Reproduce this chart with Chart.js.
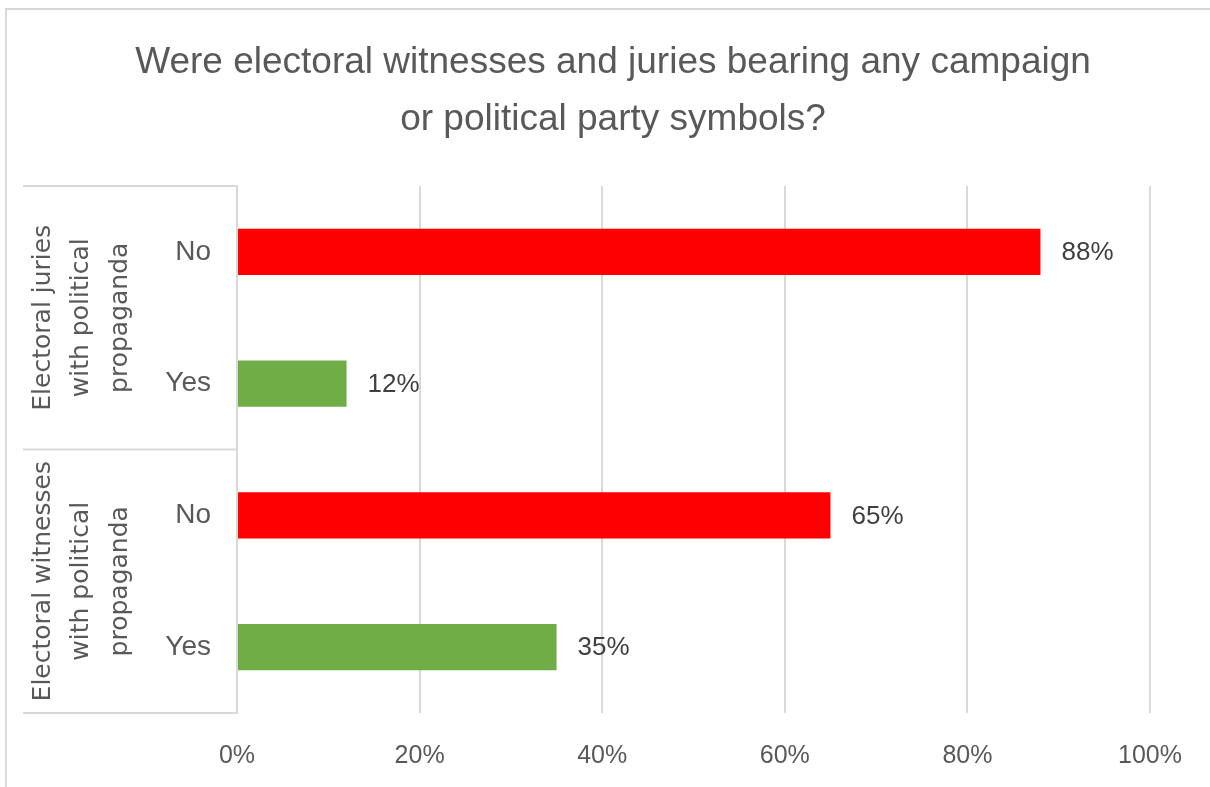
<!DOCTYPE html>
<html>
<head>
<meta charset="utf-8">
<title>Campaign symbols</title>
<script src="https://cdn.jsdelivr.net/npm/chart.js@4.4.1/dist/chart.umd.min.js"></script>
<style>
  html, body { margin: 0; padding: 0; background: #fff; }
  #chartBox { width: 1210px; height: 787px; }
</style>
</head>
<body>
<div id="chartBox"><canvas id="symbolsChart" width="1210" height="787"></canvas></div>
<script>
// ----- Data -----
const titleLines = [
  "Were electoral witnesses and juries bearing any campaign",
  "or political party symbols?"
];
const answers = ["No", "Yes", "No", "Yes"];
const shares = [88, 12, 65, 35];          // percent
const barColors = ["#FF0000", "#70AD47", "#FF0000", "#70AD47"];
const groupLines = [
  ["Electoral juries", "with political", "propaganda"],
  ["Electoral witnesses", "with political", "propaganda"]
];
const groupSizes = [2, 2];                // bars per group
const xTicks = [0, 20, 40, 60, 80, 100];

// ----- Style -----
const TEXT = "#595959";
const LINE = "#D9D9D9";
const SANS = "'Liberation Sans', Arial, sans-serif";
const WIDE = "'DejaVu Sans', sans-serif";

// frame + two-line heading
const framePlugin = {
  id: "frame",
  beforeDraw(chart) {
    const { ctx, width, height } = chart;
    ctx.save();
    ctx.fillStyle = "#fff";
    ctx.fillRect(0, 0, width, height);
    ctx.strokeStyle = LINE;
    ctx.lineWidth = 2;
    ctx.strokeRect(6, 9, width + 20, height + 20);   // right/bottom edges fall off-canvas
    ctx.fillStyle = TEXT;
    ctx.font = "37px " + SANS;
    ctx.textAlign = "center";
    ctx.textBaseline = "middle";
    const cx = width / 2 + 8;
    titleLines.forEach((line, i) => ctx.fillText(line, cx, 63 + i * 57));
    ctx.restore();
  }
};

// outer category level: separators + rotated group names
const groupAxisPlugin = {
  id: "groupAxis",
  afterDraw(chart) {
    const { ctx, chartArea } = chart;
    const left = 23, right = chartArea.left;
    const step = (chartArea.bottom - chartArea.top) / answers.length;
    ctx.save();
    ctx.strokeStyle = LINE;
    ctx.lineWidth = 2;
    let idx = 0;
    const edges = [chartArea.top];
    groupSizes.forEach(n => { idx += n; edges.push(chartArea.top + idx * step); });
    edges.forEach(e => {
      ctx.beginPath();
      ctx.moveTo(left, e);
      ctx.lineTo(right, e);
      ctx.stroke();
    });
    ctx.fillStyle = TEXT;
    ctx.font = "25px " + WIDE;
    ctx.textAlign = "center";
    ctx.textBaseline = "middle";
    groupLines.forEach((lines, g) => {
      const cy = (edges[g] + edges[g + 1]) / 2;
      lines.forEach((txt, i) => {
        ctx.save();
        ctx.translate(43 + i * 38.5, cy);
        ctx.rotate(-Math.PI / 2);
        ctx.fillText(txt, 0, 0);
        ctx.restore();
      });
    });
    ctx.restore();
  }
};

// value labels to the right of each bar
const valueLabelPlugin = {
  id: "valueLabels",
  afterDatasetsDraw(chart) {
    const { ctx } = chart;
    const meta = chart.getDatasetMeta(0);
    ctx.save();
    ctx.fillStyle = "#404040";
    ctx.font = "26px " + SANS;
    ctx.textAlign = "left";
    ctx.textBaseline = "middle";
    meta.data.forEach((bar, i) => {
      ctx.fillText(shares[i] + "%", bar.x + 21, bar.y + 1);
    });
    ctx.restore();
  }
};

const ctx = document.getElementById("symbolsChart").getContext("2d");
new Chart(ctx, {
  type: "bar",
  data: {
    labels: answers,
    datasets: [{
      data: shares,
      backgroundColor: barColors,
      borderWidth: 0,
      barPercentage: 0.7,
      categoryPercentage: 0.5
    }]
  },
  plugins: [framePlugin, groupAxisPlugin, valueLabelPlugin],
  options: {
    indexAxis: "y",
    responsive: false,
    animation: false,
    devicePixelRatio: 1,
    layout: { padding: { left: 0, right: 53, top: 186, bottom: 0 } },
    plugins: {
      legend: { display: false },
      tooltip: { enabled: false },
      title: { display: false }
    },
    scales: {
      x: {
        min: 0,
        max: 100,
        afterBuildTicks(scale) { scale.ticks = xTicks.map(v => ({ value: v })); },
        afterFit(scale) { scale.height = 74; },
        grid: { color: LINE, lineWidth: 2, drawTicks: false },
        border: { display: false },
        ticks: {
          color: TEXT,
          padding: 28,
          font: { family: SANS, size: 25 },
          callback: v => v + "%"
        }
      },
      y: {
        afterFit(scale) { scale.width = 237; },
        grid: { display: false, drawTicks: false },
        border: { display: true, color: LINE, width: 2 },
        ticks: {
          color: TEXT,
          padding: 26,
          font: { family: SANS, size: 28 }
        }
      }
    }
  }
});
</script>
</body>
</html>
